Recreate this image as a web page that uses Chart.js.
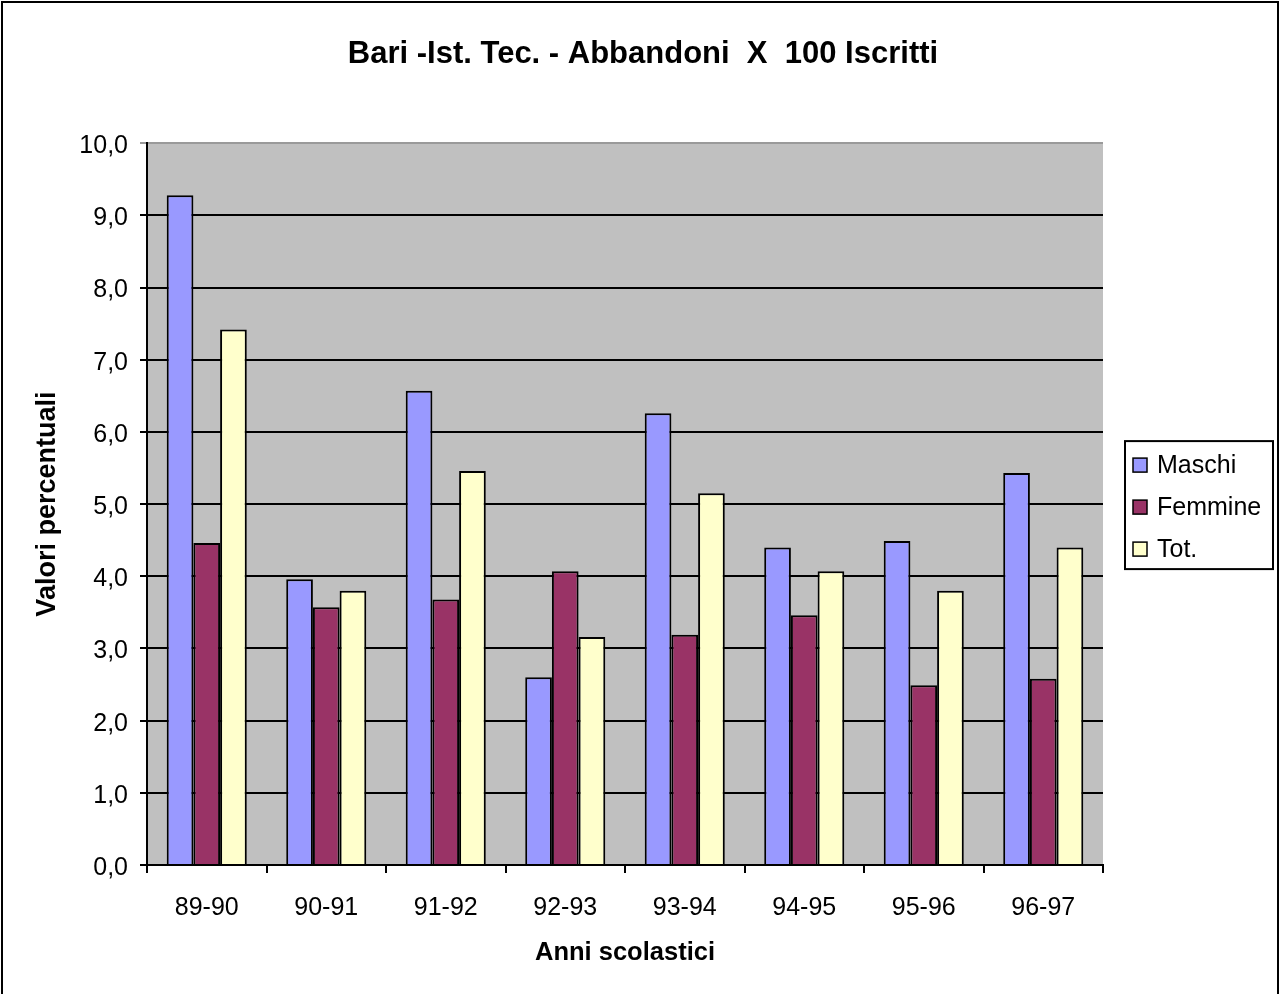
<!DOCTYPE html>
<html>
<head>
    <title>Bari - Ist. Tec. - Abbandoni</title>
    <script src="https://cdn.jsdelivr.net/npm/chart.js"></script>
    <style>
        body { margin: 0; background: #fff; }
        #wrap { width: 1281px; height: 994px; }
    </style>
</head>
<body>
<div id="wrap">
    <canvas id="abbandoniChart" width="1281" height="994"></canvas>
</div>
<script>
    // Dati
    var anni = ['89-90', '90-91', '91-92', '92-93', '93-94', '94-95', '95-96', '96-97'];
    var maschi = [9.28, 3.96, 6.57, 2.60, 6.26, 4.40, 4.49, 5.43];
    var femmine = [4.46, 3.57, 3.68, 4.07, 3.19, 3.46, 2.49, 2.58];
    var totale = [7.42, 3.80, 5.46, 3.16, 5.15, 4.07, 3.80, 4.40];
    var yTicks = [0, 1, 2, 3, 4, 5, 6, 7, 8, 9, 10];

    var font = 'Arial, "Liberation Sans", sans-serif';

    // sfondo grigio dell'area del grafico + cornice esterna
    var sfondo = {
        id: 'sfondo',
        beforeDraw: function (chart) {
            var ctx = chart.ctx, a = chart.chartArea;
            ctx.save();
            ctx.fillStyle = '#fff';
            ctx.fillRect(0, 0, chart.width, chart.height);
            ctx.fillStyle = '#C0C0C0';
            ctx.fillRect(a.left, a.top, a.right - a.left, a.bottom - a.top);
            ctx.restore();
        },
        afterDraw: function (chart) {
            var ctx = chart.ctx;
            ctx.save();
            ctx.strokeStyle = '#000';
            ctx.lineWidth = 2;
            ctx.beginPath();
            ctx.moveTo(2, chart.height + 5);
            ctx.lineTo(2, 2);
            ctx.lineTo(chart.width - 3, 2);
            ctx.lineTo(chart.width - 3, chart.height + 5);
            ctx.stroke();
            ctx.restore();
        }
    };

    // legenda con riquadro, come in Excel
    var legenda = {
        id: 'legenda',
        afterDraw: function (chart) {
            var ctx = chart.ctx, a = chart.chartArea;
            var left = a.right + 22, w = 148, h = 128;
            var mid = (a.top + a.bottom) / 2 + 1;
            var top = mid - h / 2;
            ctx.save();
            ctx.fillStyle = '#fff';
            ctx.fillRect(left, top, w, h);
            ctx.strokeStyle = '#000';
            ctx.lineWidth = 2;
            ctx.strokeRect(left, top, w, h);
            ctx.font = '25px ' + font;
            ctx.textBaseline = 'middle';
            chart.data.datasets.forEach(function (ds, i) {
                var y = mid + 2 + (i - 1) * 42;
                ctx.fillStyle = ds.backgroundColor;
                ctx.fillRect(left + 8, y - 7, 14, 14);
                ctx.lineWidth = 1.5;
                ctx.strokeRect(left + 8, y - 7, 14, 14);
                ctx.fillStyle = '#000';
                ctx.fillText(ds.label, left + 32, y + 1);
            });
            ctx.restore();
        }
    };

    var ctx = document.getElementById('abbandoniChart').getContext('2d');
    var chart = new Chart(ctx, {
        type: 'bar',
        data: {
            labels: anni,
            datasets: [
                { label: 'Maschi', data: maschi, backgroundColor: '#9999FF' },
                { label: 'Femmine', data: femmine, backgroundColor: '#993366' },
                { label: 'Tot.', data: totale, backgroundColor: '#FFFFCC' }
            ]
        },
        options: {
            responsive: false,
            animation: false,
            layout: { padding: { left: 5, right: 0, top: 0, bottom: 0 } },
            datasets: {
                bar: {
                    borderColor: '#000',
                    borderWidth: 2,
                    categoryPercentage: 0.67,
                    barPercentage: 1.0
                }
            },
            plugins: {
                legend: { display: false },
                tooltip: { enabled: false },
                title: {
                    display: true,
                    text: 'Bari -Ist. Tec. - Abbandoni  X  100 Iscritti',
                    color: '#000',
                    font: { family: font, size: 31, weight: 'bold' },
                    padding: { top: 36, bottom: 70 }
                }
            },
            scales: {
                x: {
                    afterFit: function (s) { s.height = 129; },
                    grid: {
                        offset: true,
                        drawOnChartArea: false,
                        drawTicks: true,
                        tickLength: 8,
                        color: '#000',
                        lineWidth: 2
                    },
                    border: { color: '#000', width: 2 },
                    ticks: {
                        color: '#000',
                        font: { family: font, size: 25 },
                        padding: 20,
                        maxRotation: 0
                    },
                    title: {
                        display: true,
                        text: 'Anni scolastici',
                        color: '#000',
                        font: { family: font, size: 25.5, weight: 'bold' },
                        padding: { top: 26, bottom: 26 }
                    }
                },
                y: {
                    min: 0,
                    max: 10,
                    afterFit: function (s) { s.width = 142; },
                    afterBuildTicks: function (s) {
                        s.ticks = yTicks.map(function (v) { return { value: v }; });
                    },
                    grid: {
                        color: function (c) { return c.tick && c.tick.value === 10 ? '#9a9a9a' : '#000'; },
                        lineWidth: 2,
                        tickLength: 7
                    },
                    border: { color: '#000', width: 2 },
                    ticks: {
                        color: '#000',
                        font: { family: font, size: 25 },
                        padding: 12,
                        labelOffset: 3,
                        callback: function (v) { return v.toFixed(1).replace('.', ','); }
                    },
                    title: {
                        display: true,
                        text: 'Valori percentuali',
                        color: '#000',
                        font: { family: font, size: 27, weight: 'bold' },
                        padding: { top: 26, bottom: 26 }
                    }
                },
                // spazio a destra per la legenda
                spazio: {
                    type: 'linear',
                    position: 'right',
                    afterFit: function (s) { s.width = 178; },
                    grid: { display: false },
                    border: { display: false },
                    ticks: { display: false }
                }
            }
        },
        plugins: [sfondo, legenda]
    });
</script>
</body>
</html>
